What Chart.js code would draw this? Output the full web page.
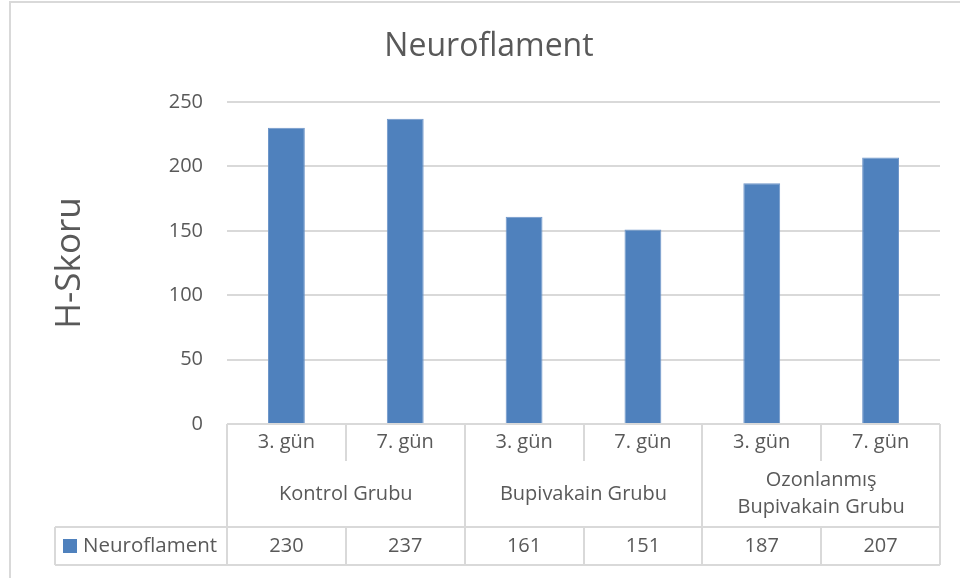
<!DOCTYPE html>
<html>
<head>
<meta charset="utf-8">
<script src="https://cdn.jsdelivr.net/npm/chart.js@4/dist/chart.umd.min.js"></script>
<style>
  html, body { margin: 0; padding: 0; background: #ffffff; }
  #wrap { width: 960px; height: 578px; position: relative; }
</style>
</head>
<body>
<div id="wrap"><canvas id="chart" width="960" height="578"></canvas></div>
<script>
// Categories: measurement day within each group
const days = ['3. gün', '7. gün', '3. gün', '7. gün', '3. gün', '7. gün'];
// Group labels (each spans two days); entries are lines of text
const groups = [['Kontrol Grubu'], ['Bupivakain Grubu'], ['Ozonlanmış', 'Bupivakain Grubu']];
// H-score values for the Neuroflament series
const seriesName = 'Neuroflament';
const values = [230, 237, 161, 151, 187, 207];
// Y axis tick range
const yTicks = [0, 50, 100, 150, 200, 250];
const chartTitle = 'Neuroflament';

const FONT = '"Open Sans", "DejaVu Sans", sans-serif';
const TEXT = '#595959';
const LINE = '#d9d9d9';
const BAR = '#4f81bd';

// Draws the outer chart border, the title and the data table under the plot area
const dataTable = {
  id: 'dataTable',
  beforeDraw(chart) {
    const ctx = chart.ctx;
    ctx.save();
    ctx.strokeStyle = LINE;
    ctx.lineWidth = 2;
    ctx.beginPath();
    ctx.moveTo(10, 578);
    ctx.lineTo(10, 2);
    ctx.lineTo(960, 2);
    ctx.stroke();
    // chart title, centred on the full chart frame
    ctx.fillStyle = TEXT;
    ctx.font = '32px ' + FONT;
    ctx.textAlign = 'center';
    ctx.textBaseline = 'middle';
    ctx.fillText(chartTitle, 489, 47);
    ctx.restore();
  },
  afterDraw(chart) {
    const ctx = chart.ctx;
    const x = chart.scales.x;
    const area = chart.chartArea;
    const left = area.left, right = area.right;
    const top = area.bottom;
    const colW = (right - left) / days.length;
    const row1 = top + 37;       // end of day row
    const row2 = top + 103;      // end of group row
    const bottom = top + 141;    // end of value row
    const legendLeft = 55;

    ctx.save();
    ctx.strokeStyle = LINE;
    ctx.lineWidth = 2;
    const seg = (x1, y1, x2, y2) => { ctx.beginPath(); ctx.moveTo(x1, y1); ctx.lineTo(x2, y2); ctx.stroke(); };

    // horizontal rules
    seg(left, top, right, top);
    seg(legendLeft, row2, right, row2);
    seg(legendLeft, bottom, right, bottom);
    // outer verticals
    seg(left, top, left, bottom);
    seg(right, top, right, bottom);
    seg(legendLeft, row2, legendLeft, bottom);
    // column separators
    for (let i = 1; i < days.length; i++) {
      const cx = Math.round(left + i * colW);
      if (i % 2 === 0) {
        seg(cx, top, cx, bottom);
      } else {
        seg(cx, top, cx, row1);
        seg(cx, row2, cx, bottom);
      }
    }

    ctx.fillStyle = TEXT;
    ctx.font = '20px ' + FONT;
    ctx.textAlign = 'center';
    ctx.textBaseline = 'middle';
    // day labels and values
    days.forEach((d, i) => {
      const cx = x.getPixelForValue(i);
      ctx.fillText(d, cx, (top + row1) / 2);
      ctx.fillText(String(values[i]), cx, (row2 + bottom) / 2);
    });
    // group labels
    groups.forEach((lines, g) => {
      const cx = (x.getPixelForValue(g * 2) + x.getPixelForValue(g * 2 + 1)) / 2;
      const mid = (row1 + row2) / 2;
      const lh = 27;
      lines.forEach((t, k) => {
        ctx.fillText(t, cx, mid + (k - (lines.length - 1) / 2) * lh);
      });
    });
    // legend key
    const ly = (row2 + bottom) / 2;
    ctx.fillStyle = BAR;
    ctx.fillRect(63, ly - 7, 14, 14);
    ctx.fillStyle = TEXT;
    ctx.textAlign = 'left';
    ctx.font = '20.5px ' + FONT;
    ctx.fillText(seriesName, 83, ly);
    ctx.restore();
  }
};

new Chart(document.getElementById('chart'), {
  type: 'bar',
  data: {
    labels: days,
    datasets: [{
      label: seriesName,
      data: values,
      backgroundColor: BAR,
      borderColor: '#6f96c9',
      borderWidth: 1,
      barPercentage: 0.62,
      categoryPercentage: 0.5
    }]
  },
  options: {
    responsive: false,
    animation: false,
    devicePixelRatio: 1,
    layout: { padding: { left: 0, right: 20, top: 102, bottom: 154 } },
    plugins: {
      legend: { display: false },
      tooltip: { enabled: false },
      title: { display: false }
    },
    scales: {
      x: {
        display: false,
        offset: true
      },
      y: {
        min: yTicks[0],
        max: yTicks[yTicks.length - 1],
        afterBuildTicks(scale) { scale.ticks = yTicks.map(v => ({ value: v })); },
        afterFit(scale) { scale.width = 227; },
        border: { display: false },
        grid: { color: LINE, lineWidth: 2, drawTicks: false },
        ticks: {
          color: TEXT,
          padding: 24,
          font: { family: FONT, size: 20 }
        },
        title: {
          display: true,
          text: 'H-Skoru',
          color: TEXT,
          font: { family: FONT, size: 35, weight: 'normal' },
          padding: { top: 49, bottom: 0 }
        }
      }
    }
  },
  plugins: [dataTable]
});
</script>
</body>
</html>
